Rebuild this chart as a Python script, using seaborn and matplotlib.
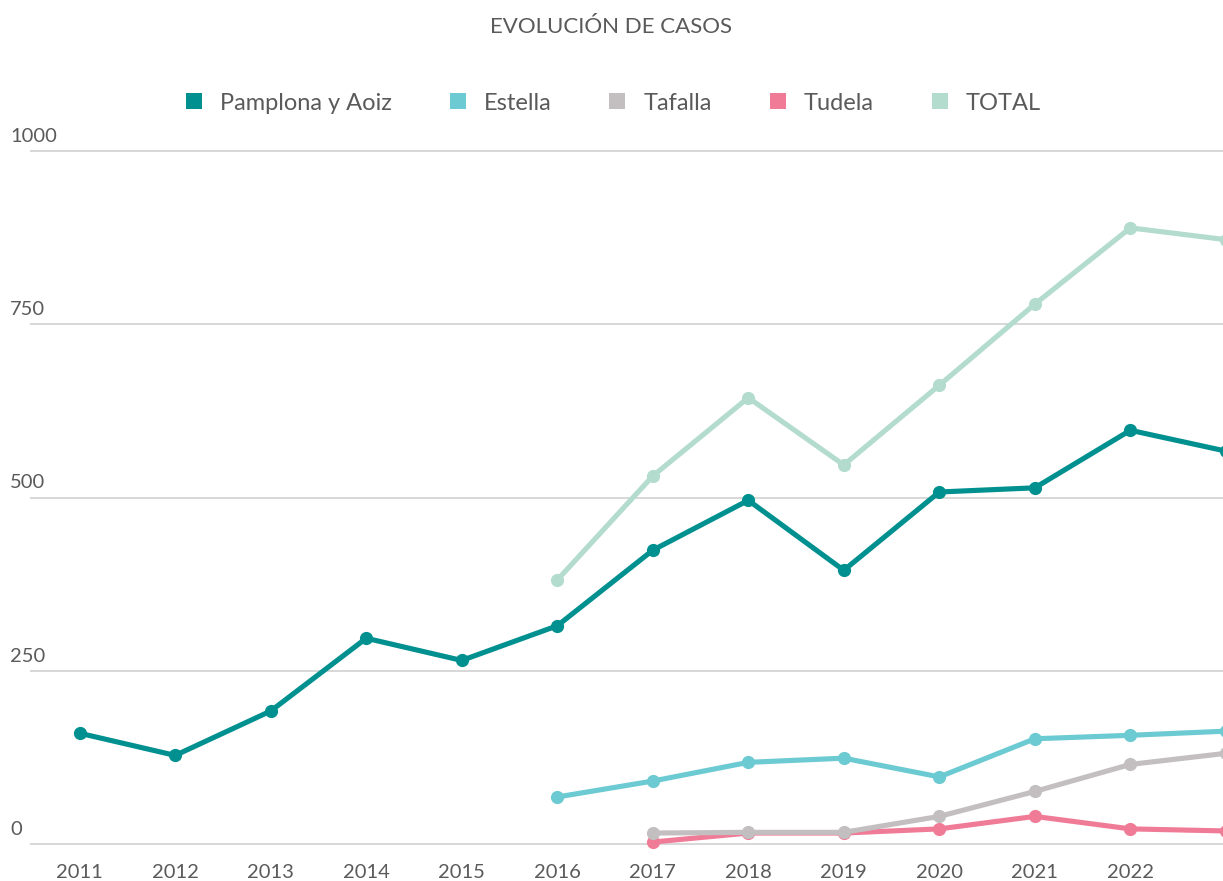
import matplotlib
matplotlib.use("Agg")
import matplotlib.pyplot as plt
import matplotlib.transforms as mtransforms
from matplotlib.lines import Line2D
import seaborn as sns
import pandas as pd

# data
years = [2011, 2012, 2013, 2014, 2015, 2016, 2017, 2018, 2019, 2020, 2021, 2022, 2023]
pamplona = [160, 128, 192, 297, 265, 315, 424, 496, 395, 508, 514, 597, 567]
estella = [None, None, None, None, None, 68, 91, 118, 124, 97, 152, 157, 163]
tafalla = [None, None, None, None, None, None, 16, 17, 17, 40, 76, 115, 131]
tudela = [None, None, None, None, None, None, 3, 16, 16, 22, 40, 22, 19]
total = [None, None, None, None, None, 381, 531, 644, 547, 662, 779, 889, 872]

series_names = ["Pamplona y Aoiz", "Estella", "Tafalla", "Tudela", "TOTAL"]
series_colors = ["#00908F", "#6CCAD2", "#C3BFC0", "#F07B97", "#B3DCCE"]
y_ticks = [0, 250, 500, 750, 1000]

rows = []
for name, vals in zip(series_names, [pamplona, estella, tafalla, tudela, total]):
    for yr, v in zip(years, vals):
        if v is not None:
            rows.append({"year": yr, "value": v, "serie": name})
df = pd.DataFrame(rows)

sns.set_style("white")
plt.rcParams["font.family"] = ["Lato", "DejaVu Sans"]
text_color = "#5a5a5a"

fig = plt.figure(figsize=(12.23, 8.81), dpi=100)
ax = fig.add_axes([30 / 1223, 23 / 881, 1193 / 1223, 714 / 881])

palette = dict(zip(series_names, series_colors))
sns.lineplot(data=df, x="year", y="value", hue="serie", hue_order=series_names[::-1],
             palette=palette, marker="o", markersize=9.5, markeredgewidth=0,
             linewidth=3.7, ax=ax, legend=False)

ax.set_xlim(2010.48, 2022.97)
ax.set_ylim(-20, 1010)
ax.set_xticks(years[:-1])
ax.set_xticklabels([str(y) for y in years[:-1]], fontsize=14.5, color=text_color)
ax.tick_params(axis="x", length=0, pad=4)
ax.set_yticks(y_ticks)
ax.set_yticklabels([])
ax.tick_params(axis="y", length=0)
ax.grid(axis="y", color="#d4d4d4", linewidth=1.3)
ax.set_axisbelow(True)
ax.set_xlabel("")
ax.set_ylabel("")
for s in ax.spines.values():
    s.set_visible(False)

# y labels sit above the gridlines, at the left edge of the figure
trans = mtransforms.blended_transform_factory(fig.transFigure, ax.transData)
for t in y_ticks:
    ax.text(10 / 1223, t + 9, str(t), transform=trans, fontsize=14.5,
            color=text_color, ha="left", va="bottom")

fig.text(0.5, 1 - 27 / 881, "EVOLUCIÓN DE CASOS", ha="center", va="center",
         fontsize=16, color=text_color)

handles = [Line2D([], [], linestyle="none", marker="s", markersize=11,
                  markerfacecolor=c, markeredgewidth=0) for c in series_colors]
fig.legend(handles, series_names, loc="center", bbox_to_anchor=(0.5, 1 - 103 / 881),
           ncol=5, frameon=False, fontsize=17, labelcolor=text_color,
           handletextpad=0.6, columnspacing=2.3, handlelength=1.0)

plt.savefig("out.png", dpi=100)
